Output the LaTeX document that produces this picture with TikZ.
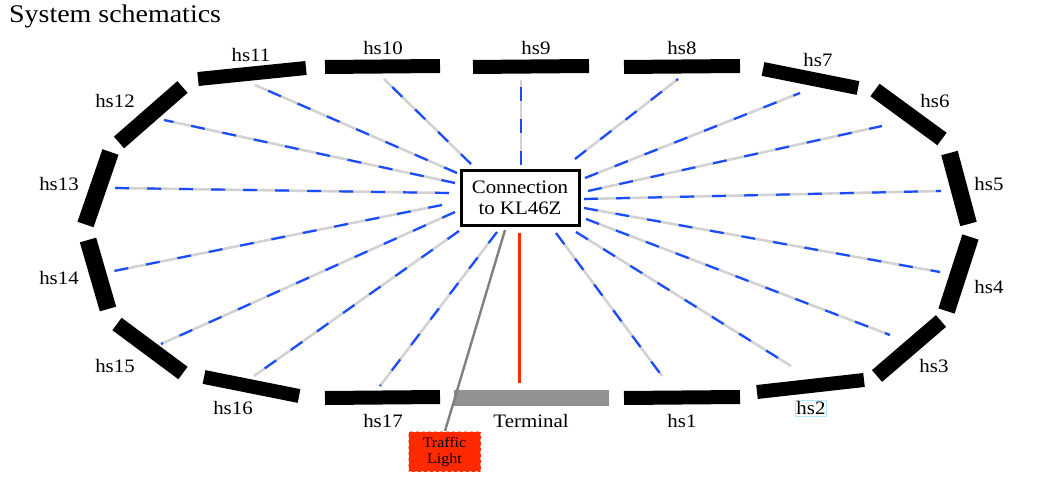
\documentclass[tikz,border=0pt]{standalone}
\usepackage{fontspec}
\setmainfont[FakeStretch=1.1]{Liberation Serif}
\definecolor{spokeblue}{HTML}{1A4CFF}
\definecolor{spokegray}{HTML}{D2D2D2}
\definecolor{lightred}{HTML}{FF2A00}
\definecolor{termgray}{HTML}{919191}
\tikzset{
  hsbar/.style={line width=14pt,black},
  hsbarmid/.style={line width=15.5pt,black},
  hsbarwide/.style={line width=17pt,black},
  hslabel/.style={font=\fontsize{19}{21}\selectfont,inner sep=0pt},
  spokeback/.style={line width=2.6pt,spokegray},
  spokefront/.style={line width=2.2pt,spokeblue,dash pattern=on 14pt off 18pt},
}
\begin{document}
\begin{tikzpicture}[x=1pt,y=-1pt]
    \useasboundingbox (0,0) rectangle (1042,486);
    \node[anchor=west,inner sep=0pt,font=\fontsize{25.4}{27}\selectfont] (title) at (9,16) {System schematics};
    % Track sections
    \draw[hsbar] (757,392) -- (864,380);
    \draw[hsbar] (624,398) -- (740,397);
    \draw[hsbarmid] (941,321) -- (877,376);
    \draw[hsbarwide] (970.5,237) -- (946.5,311);
    \draw[hsbarwide] (949.5,153) -- (968.5,224);
    \draw[hsbarmid] (875,90) -- (942,139);
    \draw[hsbar] (763,69) -- (858,88);
    \draw[hsbar] (624,67) -- (740,66);
    \draw[hsbar] (473,67) -- (589,66);
    \draw[hsbar] (325,67) -- (440,66);
    \draw[hsbar] (198,79) -- (306,68);
    \draw[hsbarmid] (182.5,87) -- (119,142.5);
    \draw[hsbarwide] (110.5,152) -- (85.5,224.5);
    \draw[hsbarwide] (88,240) -- (108,309);
    \draw[hsbarmid] (117,324) -- (183,373);
    \draw[hsbar] (204,377) -- (299,396);
    \draw[hsbar] (325,398) -- (440,397);
    \draw[line width=16pt,termgray] (454,398) -- (609,398);
    % Section labels
    \node[hslabel] (hs1) at (682,421) {hs1};
    \node[hslabel,draw=cyan!30,line width=1pt,inner xsep=1pt,inner ysep=1.5pt] (hs2) at (811,408.5) {hs2};
    \node[hslabel] (hs3) at (934,366) {hs3};
    \node[hslabel] (hs4) at (989,287) {hs4};
    \node[hslabel] (hs5) at (989,184) {hs5};
    \node[hslabel] (hs6) at (935,101) {hs6};
    \node[hslabel] (hs7) at (818,60) {hs7};
    \node[hslabel] (hs8) at (682,48) {hs8};
    \node[hslabel] (hs9) at (536,48) {hs9};
    \node[hslabel] (hs10) at (383,48) {hs10};
    \node[hslabel] (hs11) at (251,55) {hs11};
    \node[hslabel] (hs12) at (115,101) {hs12};
    \node[hslabel] (hs13) at (59,184) {hs13};
    \node[hslabel] (hs14) at (59,278) {hs14};
    \node[hslabel] (hs15) at (115,366) {hs15};
    \node[hslabel] (hs16) at (233,408) {hs16};
    \node[hslabel] (hs17) at (383,421) {hs17};
    \node[hslabel] (terminal) at (531,421) {Terminal};
    % Connection box
    \node[draw,line width=3pt,minimum width=118pt,minimum height=55pt,inner sep=0pt,inner ysep=0pt,align=center,
      font=\fontsize{19}{21}\selectfont] (hub) at (520,198.5) {\raisebox{1.5pt}{Connection}\\\raisebox{1.5pt}{to KL46Z}};
    % Wires to the sections
    \foreach \n/\ax/\ay/\bx/\by in {1/556/233/662/376, 2/576/232/791/366, 3/586/219/890/335,
        4/584/208/940/272, 5/584/199/941/191, 6/588/191/882/126, 7/585/178/800/93,
        8/575/159/678/79, 9/521/165/521/80, 10/471/164/384/79, 11/457/173/255/85,
        12/455/183/164/120, 13/449/193/115/188, 14/442/205/114/271, 15/455/212/161/344,
        16/459/231/254/376, 17/497/232/380/386} {
      \coordinate (a\n) at (\ax,\ay);
      \coordinate (b\n) at (\bx,\by);
      \draw[spokeback] (a\n) -- (b\n);
      \draw[spokefront] (a\n) -- (b\n);
    }
    % Traffic light and terminal wire
    \node[fill=lightred,draw=lightred!40!white,dashed,line width=1pt,minimum width=72pt,minimum height=40pt,
      inner sep=0pt,align=center,font=\fontsize{14.5}{16}\selectfont] (light) at (444.5,451.5) {\raisebox{-1.5pt}{Traffic}\\\raisebox{-1.5pt}{Light}};
    \coordinate (hubgray) at (505,230);
    \coordinate (lightgray) at (445,431);
    \coordinate (hubred) at (519.5,233);
    \coordinate (termred) at (519.5,383);
    \draw[line width=2.4pt,gray] (hubgray) -- (lightgray);
    \draw[line width=2.4pt,lightred] (hubred) -- (termred);
\end{tikzpicture}
\end{document}
